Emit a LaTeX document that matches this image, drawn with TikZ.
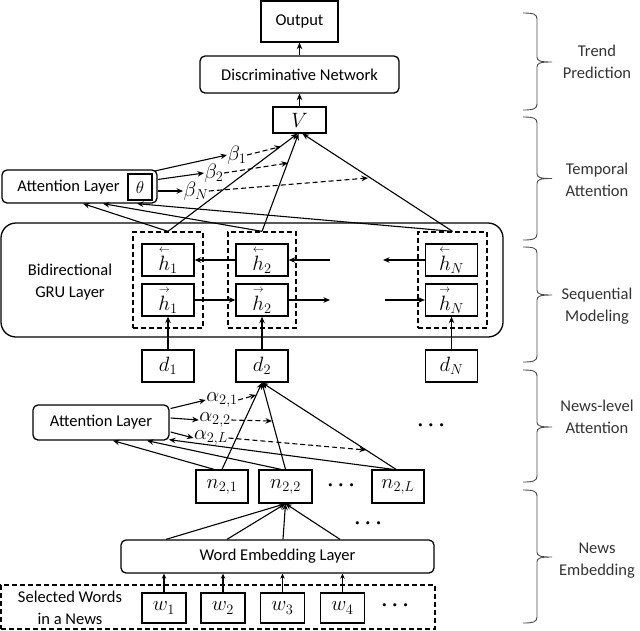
\documentclass[tikz,border=0pt]{standalone}
\usepackage{fontspec}
\usepackage{amsmath}
\setmainfont{Carlito}
\usetikzlibrary{arrows.meta,calc}
\newcommand{\hb}[1]{\overset{\scriptscriptstyle\leftarrow}{h}{}_{#1}}
\newcommand{\hf}[1]{\overset{\scriptscriptstyle\rightarrow}{h}{}_{#1}}
\begin{document}
\begin{tikzpicture}[x=1pt,y=-1pt,line width=1.1pt,
  >={Stealth[length=6.5pt,width=5.5pt]},
  bx/.style n args={2}{draw,rectangle,inner sep=0pt,minimum width=#1,minimum height=#2,line width=1.3pt},
  rbx/.style n args={2}{bx={#1}{#2},rounded corners=5pt},
  dbx/.style n args={2}{bx={#1}{#2},dash pattern=on 5pt off 3pt},
  lbl/.style={font=\fontsize{16.5}{22}\selectfont,align=center,inner sep=0pt},
  mth/.style={font=\fontsize{22}{24}\selectfont},
  sm/.style={font=\fontsize{21}{22}\selectfont,inner sep=0pt},
  dts/.style={font=\fontsize{20}{20}\selectfont\boldmath},
  darr/.style={->,dash pattern=on 5pt off 3pt},
  brc/.style={line width=0.9pt,draw=black!70},
  side/.style={lbl,text=black!80}]
\useasboundingbox (0,0) rectangle (640,630);

% ---------- top ----------
\node[bx={77pt}{41pt},lbl] (out) at (299.5,21.5) {Output};
\node[rbx={199pt}{37pt},lbl] (disc) at (299.5,74.5) {Discriminative Network};
\node[bx={53pt}{26pt},font=\fontsize{20}{22}\selectfont] (V) at (299.5,120) {$V$};
\draw[->] (V.north) -- (disc.south);
\draw[->] (disc.north) -- (out.south);

% ---------- temporal attention ----------
\node[rbx={155pt}{33pt}] (att1) at (79.5,186.5) {};
\node[lbl] (att1t) at (68.5,187) {Attention Layer};
\node[bx={24pt}{26pt},font=\fontsize{18}{20}\selectfont,line width=1.7pt] (theta) at (140,187) {$\theta$};

\node[sm] (b1) at (237,155) {$\beta_1$};
\node[sm] (b2) at (214,173) {$\beta_2$};
\node[sm] (bN) at (196,191) {$\beta_N$};

% ---------- GRU ----------
\node[bx={502pt}{114pt},rounded corners=15pt] (gru) at (252,280) {};
\node[lbl] (grut) at (70,282) {Bidirectional\\GRU Layer};
\node[dbx={70pt}{96pt}] (db1) at (168,280) {};
\node[dbx={68pt}{96pt}] (db2) at (262,280) {};
\node[dbx={69pt}{96pt}] (dbN) at (452.5,280) {};

\node[bx={52pt}{32pt},mth] (hb1) at (168,260) {$\hb{1}$};
\node[bx={52pt}{32pt},mth] (hf1) at (168,300) {$\hf{1}$};
\node[bx={52pt}{32pt},mth] (hb2) at (262,260) {$\hb{2}$};
\node[bx={52pt}{32pt},mth] (hf2) at (262,300) {$\hf{2}$};
\node[bx={52pt}{32pt},mth] (hbN) at (451.5,260) {$\hb{N}$};
\node[bx={52pt}{32pt},mth] (hfN) at (451.5,300) {$\hf{N}$};

\coordinate (bk1) at (330,260);
\coordinate (bk2) at (383,260);
\coordinate (fw1) at (330,300);
\coordinate (fw2) at (385,300);
\draw[->] (hb2.west) -- (hb1.east);
\draw[->] (bk1) -- (hb2.east);
\draw[->] (hbN.west) -- (bk2);
\draw[->] (hf1.east) -- (hf2.west);
\draw[->] (hf2.east) -- (fw1);
\draw[->] (fw2) -- (hfN.west);

\node[bx={52pt}{32pt},mth] (d1) at (168,366) {$d_1$};
\node[bx={52pt}{32pt},mth] (d2) at (262,366) {$d_2$};
\node[bx={52pt}{32pt},mth] (dN) at (451.5,366) {$d_N$};
\draw[->] (d1.north) -- (hf1.south);
\draw[->] (d2.north) -- (hf2.south);
\draw[->] (dN.north) -- (hfN.south);

% hidden -> V
\draw[->] (db1.north) -- ($(V.south)+(-2,0)$);
\draw[->] (db2.north) -- ($(V.south)+(-1,0)$);
\draw[->] (dbN.north) -- ($(V.south)+(3,0)$);
% hidden -> attention
\draw[->] (db1.north) -- ($(att1.south)+(3.5,0)$);
\draw[->] (db2.north) -- ($(att1.south)+(23.5,0)$);
\draw[->] (dbN.north) -- ($(att1.south)+(57.5,0)$);

% attention weights
\coordinate (b1e) at (281,146.5);
\coordinate (b2e) at (288,163);
\coordinate (bNe) at (368,178);
\draw[->] ($(att1.east)+(-3,-15.5)$) -- (b1.west);
\draw[->] ($(att1.east)+(0,-7)$) -- (b2.west);
\draw[->] ($(att1.east)+(0,4.5)$) -- (bN.west);
\draw[darr] (b1.east) -- (b1e);
\draw[darr] (b2.east) -- (b2e);
\draw[darr] (bN.east) -- (bNe);

% ---------- news-level attention ----------
\node[rbx={136pt}{35pt},lbl] (att2) at (101,422.5) {Attention Layer};
\node[sm] (a1) at (222,400) {$\alpha_{2,1}$};
\node[sm] (a2) at (215,420) {$\alpha_{2,2}$};
\node[sm] (aL) at (211,438) {$\alpha_{2,L}$};

\node[bx={52pt}{33pt},mth] (n21) at (222,486.5) {$n_{2,1}$};
\node[bx={53pt}{33pt},mth] (n22) at (285.5,486.5) {$n_{2,2}$};
\node[bx={52pt}{33pt},mth] (n2L) at (398,486.5) {$n_{2,L}$};
\node[dts] (dots1) at (343,486) {$\cdots$};
\node[dts] (dots2) at (433,426) {$\cdots$};
\node[dts] (dots3) at (370,524) {$\cdots$};

\draw[->] (n21.north) -- (d2.south);
\draw[->] (n22.north) -- (d2.south);
\draw[->] ($(n2L.north)+(-2,0)$) -- (d2.south);
\draw[->] ($(n21.north)+(-8,0)$) -- ($(att2.south)+(12,0)$);
\draw[->] ($(n22.north)+(-4.5,0)$) -- ($(att2.south)+(46,0)$);
\draw[->] ($(n2L.north)+(-5,0)$) -- ($(att2.south)+(68,-1)$);

\coordinate (a1e) at (256,395);
\coordinate (a2e) at (272,421);
\coordinate (aLe) at (366,450);
\draw[->] ($(att2.east)+(1,-14)$) -- (a1.west);
\draw[->] ($(att2.east)+(1,-4.5)$) -- (a2.west);
\draw[->] ($(att2.east)+(1,9.5)$) -- (aL.west);
\draw[darr] (a1.east) -- (a1e);
\draw[darr] (a2.east) -- (a2e);
\draw[darr] (aL.east) -- (aLe);

% ---------- news embedding ----------
\node[rbx={313pt}{33pt},lbl] (wemb) at (277.5,556.5) {Word Embedding Layer};
\draw[->] ($(wemb.north)+(-111.5,0)$) -- (n22.south);
\draw[->] ($(wemb.north)+(-50.5,0)$) -- (n22.south);
\draw[->] ($(wemb.north)+(5.5,0)$) -- (n22.south);
\draw[->] ($(wemb.north)+(62.5,0)$) -- (n22.south);

\node[dbx={434pt}{44pt}] (sel) at (218,607) {};
\node[lbl] (selt) at (70,608) {Selected Words\\in a News};
\node[bx={44pt}{30pt},mth] (w1) at (164,608) {$w_1$};
\node[bx={44pt}{30pt},mth] (w2) at (223,608) {$w_2$};
\node[bx={44pt}{30pt},mth] (w3) at (282.5,608) {$w_3$};
\node[bx={44pt}{30pt},mth] (w4) at (342.5,608) {$w_4$};
\node[dts] (dots4) at (397,606) {$\cdots$};
\foreach \w in {w1,w2,w3,w4}
  \draw[->,>={Stealth[length=5pt,width=4.5pt]}] (\w.north) -- (\w.north |- wemb.south);

% ---------- braces ----------
\foreach \a/\m/\b in {13/62/110, 117/178.5/240, 247/295/362, 370/427/482, 490/557/623}{
  \draw[brc] (523,\a) .. controls (533,\a) and (537,\a+1) .. (537,\a+6)
     -- (537,\m-5) .. controls (537,\m-1) and (540,\m) .. (552,\m)
     .. controls (540,\m) and (537,\m+1) .. (537,\m+5)
     -- (537,\b-6) .. controls (537,\b-1) and (533,\b) .. (523,\b);
}
\node[side] (s1) at (597,62) {Trend\\Prediction};
\node[side] (s2) at (597,180) {Temporal\\Attention};
\node[side] (s3) at (597,306) {Sequential\\Modeling};
\node[side] (s4) at (597,417) {News-level\\Attention};
\node[side] (s5) at (597,561) {News\\Embedding};
\end{tikzpicture}
\end{document}
